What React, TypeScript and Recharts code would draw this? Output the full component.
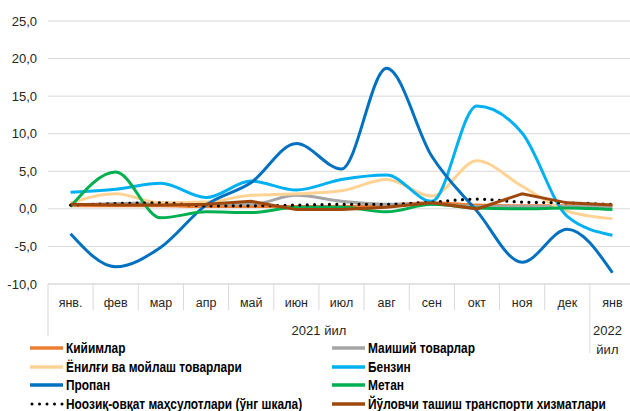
import React from "react";
import { LineChart, Line, XAxis, YAxis, CartesianGrid } from "recharts";

const months = ["янв.", "фев", "мар", "апр", "май", "июн", "июл", "авг", "сен", "окт", "ноя", "дек", "янв"];
const years = ["2021 йил", "2021 йил", "2021 йил", "2021 йил", "2021 йил", "2021 йил", "2021 йил", "2021 йил", "2021 йил", "2021 йил", "2021 йил", "2021 йил", "2022 йил"];
const yTicks = [-10, -5, 0, 5, 10, 15, 20, 25];

const kiyim = [0.4, 0.4, 0.4, 0.3, 0.3, 0.3, 0.3, 0.5, 0.8, 0.5, 0.4, 0.4, 0.4];
const maishiy = [0.5, 0.7, 0.8, 0.7, 0.6, 1.8, 1.0, 0.6, 0.6, 0.3, 0.3, 0.3, 0.3];
const yonilgi = [0.8, 2.0, 0.8, 0.9, 1.8, 2.0, 2.4, 3.9, 1.7, 6.4, 3.0, -0.3, -1.3];
const benzin = [2.2, 2.6, 3.4, 1.5, 3.7, 2.5, 3.9, 4.5, 1.0, 13.7, 10.1, -1.0, -3.5];
const propan = [-3.3, -7.7, -5.1, 0.5, 3.5, 8.7, 5.3, 18.7, 7.0, -0.3, -7.1, -2.7, -8.5];
const metan = [0.3, 4.9, -1.2, -0.4, -0.5, 0.2, 0.2, -0.4, 0.6, 0.1, 0.0, 0.1, -0.1];
const noozik = [0.5, 0.7, 0.8, 0.4, 0.4, 0.5, 0.6, 0.6, 0.9, 1.3, 0.9, 0.8, 0.6];
const yolovchi = [0.6, 0.5, 0.5, 0.6, 1.0, -0.1, -0.1, 0.2, 0.8, 0.0, 2.0, 0.8, 0.5];

const series = [
  { key: "kiyim", name: "Кийимлар", values: kiyim, color: "#ED7D31", dotted: false, linear: false },
  { key: "maishiy", name: "Маиший товарлар", values: maishiy, color: "#A5A5A5", dotted: false, linear: false },
  { key: "yonilgi", name: "Ёнилғи ва мойлаш товарлари", values: yonilgi, color: "#FFD394", dotted: false, linear: false },
  { key: "benzin", name: "Бензин", values: benzin, color: "#00B0F0", dotted: false, linear: false },
  { key: "propan", name: "Пропан", values: propan, color: "#0070C0", dotted: false, linear: false },
  { key: "metan", name: "Метан", values: metan, color: "#00B050", dotted: false, linear: false },
  { key: "noozik", name: "Ноозиқ-овқат маҳсулотлари (ўнг шкала)", values: noozik, color: "#000000", dotted: true, linear: false },
  { key: "yolovchi", name: "Йўловчи ташиш транспорти хизматлари", values: yolovchi, color: "#9E480E", dotted: false, linear: true },
];

// legend order (two columns, row by row)
const legendOrder = ["kiyim", "maishiy", "yonilgi", "benzin", "propan", "metan", "noozik", "yolovchi"];

const data = months.map((m, i) => {
  const row: any = { month: m + "|" + i, year: years[i] };
  series.forEach((s) => (row[s.key] = s.values[i]));
  return row;
});

const CHART_W = 640;
const CHART_H = 411;
const Y_W = 48;
const M_RIGHT = 5;
const PLOT_W = CHART_W - Y_W - M_RIGHT;
const GRID = "#D9D9D9";
const FONT = "'Liberation Sans', Arial, sans-serif";

const MonthTick = (props: any) => {
  const { x, y, index } = props;
  const band = PLOT_W / months.length;
  const left = x - band / 2;
  const groupStart = index === 0 || years[index] !== years[index - 1];
  let count = 0;
  if (groupStart) {
    for (let j = index; j < years.length && years[j] === years[index]; j++) count++;
  }
  const lineEnd = groupStart ? (index === 0 ? y + 52 : y + 69) : y + 26;
  const yearParts = years[index].split(" ");
  return (
    <g>
      <line x1={left} x2={left} y1={y} y2={lineEnd} stroke={GRID} strokeWidth={1} />
      <text x={x} y={y + 23} textAnchor="middle" fontSize={12.5} fill="#262626" fontFamily={FONT}>
        {months[index]}
      </text>
      {groupStart && count > 1 && (
        <text x={left + (count * band) / 2} y={y + 51} textAnchor="middle" fontSize={13} fill="#262626" fontFamily={FONT}>
          {years[index]}
        </text>
      )}
      {groupStart && count === 1 && (
        <text x={x - 5} y={y + 51} textAnchor="middle" fontSize={13} fill="#262626" fontFamily={FONT}>
          <tspan x={x - 5}>{yearParts[0]}</tspan>
          <tspan x={x - 5} dy={19}>{yearParts[1]}</tspan>
        </text>
      )}
    </g>
  );
};

const LegendBox = () => {
  const items = legendOrder.map((k) => series.find((s) => s.key === k)!);
  return (
    <div style={{ position: "absolute", left: 30, top: 339, width: 600, fontFamily: FONT, fontWeight: "bold", fontSize: 14, color: "#000" }}>
      {items.map((s, i) => {
        const col = i % 2;
        const row = Math.floor(i / 2);
        return (
          <div key={s.key} style={{ position: "absolute", left: col === 0 ? 0 : 302, top: row * 18.7, height: 18, display: "flex", alignItems: "center", whiteSpace: "nowrap" }}>
            <svg width={34} height={18} style={{ marginRight: 2, flex: "none" }}>
              {s.dotted ? (
                <line x1={2} x2={33} y1={9} y2={9} stroke={s.color} strokeWidth={3} strokeLinecap="round" strokeDasharray="0 7.5" />
              ) : (
                <line x1={0} x2={33} y1={9} y2={9} stroke={s.color} strokeWidth={3.5} />
              )}
            </svg>
            <span style={{ display: "inline-block", transform: "scaleX(0.85)", transformOrigin: "left center" }}>{s.name}</span>
          </div>
        );
      })}
    </div>
  );
}

export default function App() {
  return (
    <div style={{ position: "absolute", left: 0, top: 0, width: 630, height: 411, overflow: "hidden", background: "#fff" }}>
      <LineChart width={CHART_W} height={CHART_H} data={data} margin={{ top: 21, right: M_RIGHT, left: 0, bottom: 0 }}>
        <CartesianGrid vertical={false} stroke={GRID} strokeWidth={1} />
        <XAxis
          dataKey="month"
          scale="band"
          height={127}
          axisLine={{ stroke: GRID }}
          tickLine={false}
          tickSize={0}
          tickMargin={0}
          interval={0}
          tick={<MonthTick />}
        />
        <YAxis
          width={Y_W}
          domain={[-10, 25]}
          ticks={yTicks}
          axisLine={false}
          tickLine={false}
          tickSize={0}
          tickMargin={11}
          tick={{ fill: "#262626", fontSize: 13, fontFamily: FONT }}
          tickFormatter={(v: number) => v.toFixed(1).replace(".", ",")}
        />
        {series.map((s) => (
          <Line
            key={s.key}
            dataKey={s.key}
            name={s.name}
            type={s.linear ? "linear" : "monotone"}
            stroke={s.color}
            strokeWidth={s.dotted ? 3.2 : 3}
            strokeDasharray={s.dotted ? "0 7.4" : undefined}
            strokeLinecap={s.dotted ? "round" : "butt"}
            dot={false}
            activeDot={false}
            isAnimationActive={false}
          />
        ))}
      </LineChart>
      <LegendBox />
    </div>
  );
}
